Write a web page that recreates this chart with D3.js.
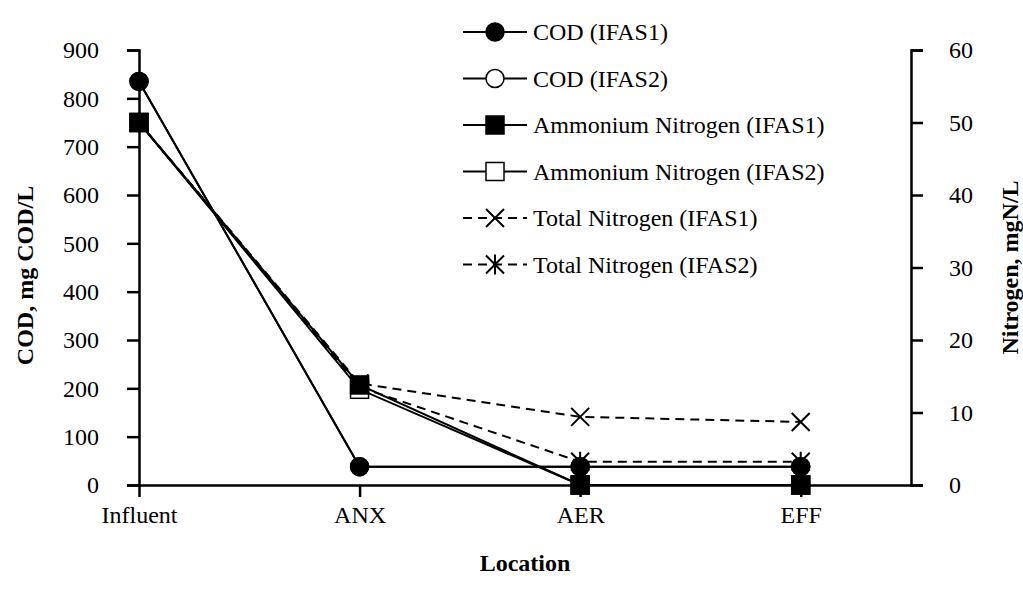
<!DOCTYPE html>
<html>
<head>
<meta charset="utf-8">
<script src="https://cdn.jsdelivr.net/npm/d3@7"></script>
<style>
  html, body { margin: 0; padding: 0; background: #fff; }
  svg { display: block; font-family: "Liberation Serif", "Times New Roman", Times, "DejaVu Serif", serif; }
  svg text { font-family: "Liberation Serif", "Times New Roman", Times, "DejaVu Serif", serif !important; fill: #000; }
</style>
</head>
<body>
<svg id="chart" width="1023" height="592"></svg>
<script>
// Sampling locations along the treatment train
const locations = ["Influent", "ANX", "AER", "EFF"];

// COD, mg COD/L (left axis)
const codIFAS1 = [835, 38, 38, 38];
const codIFAS2 = [835, 38, 38, 38];

// Nitrogen, mgN/L (right axis)
const nh4IFAS1 = [50, 13.8, 0, 0];
const nh4IFAS2 = [50, 13.2, 0, 0];
const tnIFAS1 = [50, 14.0, 9.4, 8.7];
const tnIFAS2 = [50, 13.5, 3.2, 3.2];

// Axis ticks
const codTicks = [0, 100, 200, 300, 400, 500, 600, 700, 800, 900];
const nTicks = [0, 10, 20, 30, 40, 50, 60];

const series = [
  { name: "COD (IFAS1)", values: codIFAS1, axis: "left", marker: "circle", filled: true, dashed: false },
  { name: "COD (IFAS2)", values: codIFAS2, axis: "left", marker: "circle", filled: false, dashed: false },
  { name: "Ammonium Nitrogen (IFAS1)", values: nh4IFAS1, axis: "right", marker: "square", filled: true, dashed: false },
  { name: "Ammonium Nitrogen (IFAS2)", values: nh4IFAS2, axis: "right", marker: "square", filled: false, dashed: false },
  { name: "Total Nitrogen (IFAS1)", values: tnIFAS1, axis: "right", marker: "x", filled: false, dashed: true },
  { name: "Total Nitrogen (IFAS2)", values: tnIFAS2, axis: "right", marker: "star", filled: false, dashed: true }
];

const FONT_FAMILY = "'Liberation Serif', 'Times New Roman', Times, serif";
const FONT = 24;

const svg = d3.select("#chart").attr("font-family", FONT_FAMILY);
const plot = { left: 139, right: 911, top: 50, bottom: 485 };

// Categories sit on whole steps; the plot extends half a step past the last one
const x = d3.scaleLinear().domain([0, locations.length - 0.5]).range([plot.left, plot.right]);
const yL = d3.scaleLinear().domain([0, 900]).range([plot.bottom, plot.top]);
const yR = d3.scaleLinear().domain([0, 60]).range([plot.bottom, plot.top]);

function styleAxis(g) {
  g.attr("font-family", FONT_FAMILY).attr("font-size", FONT);
  g.select(".domain").attr("stroke", "#000").attr("stroke-width", 2.5);
  g.selectAll(".tick line").attr("stroke", "#000").attr("stroke-width", 2.5);
  g.selectAll(".tick text").attr("fill", "#000");
}

// Left axis (COD)
svg.append("g")
  .attr("transform", `translate(${plot.left},0)`)
  .call(d3.axisLeft(yL).tickValues(codTicks).tickSize(12).tickPadding(28).tickSizeOuter(12))
  .call(styleAxis);

// Right axis (nitrogen)
svg.append("g")
  .attr("transform", `translate(${plot.right},0)`)
  .call(d3.axisRight(yR).tickValues(nTicks).tickSize(12).tickPadding(26).tickSizeOuter(12))
  .call(styleAxis);

// Bottom axis (location)
svg.append("g")
  .attr("transform", `translate(0,${plot.bottom})`)
  .call(d3.axisBottom(x).tickValues(d3.range(locations.length)).tickFormat(i => locations[i])
    .tickSize(12).tickPadding(9).tickSizeOuter(0))
  .call(styleAxis);

// Axis titles
svg.append("text")
  .attr("transform", `translate(25,${(plot.top + plot.bottom) / 2 + 8}) rotate(-90)`)
  .attr("text-anchor", "middle").attr("dy", "0.35em")
  .attr("font-weight", "bold").attr("font-size", FONT)
  .text("COD, mg COD/L");

svg.append("text")
  .attr("transform", `translate(1010,${(plot.top + plot.bottom) / 2}) rotate(-90)`)
  .attr("text-anchor", "middle").attr("dy", "0.35em")
  .attr("font-weight", "bold").attr("font-size", FONT)
  .text("Nitrogen, mgN/L");

svg.append("text")
  .attr("x", (plot.left + plot.right) / 2).attr("y", 571)
  .attr("text-anchor", "middle").attr("font-weight", "bold").attr("font-size", FONT)
  .text("Location");

// Marker drawing
function drawMarker(g, s, cx, cy) {
  const r = 9;
  if (s.marker === "circle") {
    g.append("circle").attr("cx", cx).attr("cy", cy).attr("r", r)
      .attr("fill", s.filled ? "#000" : "#fff").attr("stroke", "#000").attr("stroke-width", 1.5);
  } else if (s.marker === "square") {
    g.append("rect").attr("x", cx - r).attr("y", cy - r).attr("width", 2 * r).attr("height", 2 * r)
      .attr("fill", s.filled ? "#000" : "#fff").attr("stroke", "#000").attr("stroke-width", 1.5);
  } else {
    const d = 9;
    const p = d3.path();
    p.moveTo(cx - d, cy - d); p.lineTo(cx + d, cy + d);
    p.moveTo(cx - d, cy + d); p.lineTo(cx + d, cy - d);
    if (s.marker === "star") { p.moveTo(cx, cy - d - 1); p.lineTo(cx, cy + d + 1); }
    g.append("path").attr("d", p.toString()).attr("fill", "none")
      .attr("stroke", "#000").attr("stroke-width", 2);
  }
}

const line = d3.line();
const linesG = svg.append("g");
const marksG = svg.append("g");

series.slice().reverse().forEach(s => {
  const yS = s.axis === "left" ? yL : yR;
  const pts = s.values.map((v, i) => [x(i), yS(v)]);
  linesG.append("path").attr("d", line(pts)).attr("fill", "none")
    .attr("stroke", "#000").attr("stroke-width", 2)
    .attr("stroke-dasharray", s.dashed ? "9,6" : null);
});

// Open markers first so the filled ones stay visible where they coincide
const order = [5, 4, 3, 1, 2, 0];
order.forEach(k => {
  const s = series[k];
  const yS = s.axis === "left" ? yL : yR;
  s.values.forEach((v, i) => drawMarker(marksG, s, x(i), yS(v)));
});

// Legend
const legend = svg.append("g");
const legTop = 32, legStep = 46.5;
series.forEach((s, k) => {
  const cy = legTop + k * legStep;
  legend.append("line").attr("x1", 463).attr("x2", 527).attr("y1", cy).attr("y2", cy)
    .attr("stroke", "#000").attr("stroke-width", 2)
    .attr("stroke-dasharray", s.dashed ? "9,6" : null);
  drawMarker(legend, s, 495, cy);
  legend.append("text").attr("x", 533).attr("y", cy).attr("dy", "0.35em")
    .attr("font-size", FONT).text(s.name);
});
</script>
</body>
</html>
